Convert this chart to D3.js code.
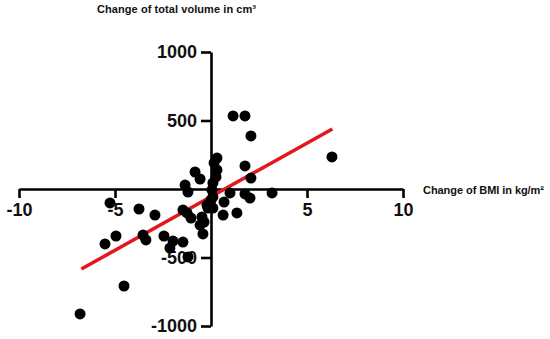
<!DOCTYPE html>
<html>
<head>
<meta charset="utf-8">
<script src="https://cdn.jsdelivr.net/npm/d3@7"></script>
<style>
  body { margin: 0; background: #fff; }
  svg { display: block; }
  .tick text { font-family: "Liberation Sans", Arial, sans-serif; font-weight: bold; font-size: 18px; fill: #111; }
  .title { font-family: "Liberation Sans", Arial, sans-serif; font-weight: bold; font-size: 11px; fill: #111; }
</style>
</head>
<body>
<div id="chart"></div>
<script>
// Change of BMI (kg/m²) for each subject
var bmiChange = [1.15, 1.77, 2.08, 6.30, 1.77, 2.08, 0.99, 1.77, 2.03, 3.18,
  1.35, 0.68, 0.63, 0.31, 0.16, 0.31, 0.26, 0.10, 0.05, 0.10,
  -0.05, 0.10, -0.16, -0.21, -0.83, -0.57, -1.35, -1.20, -1.46, -1.25,
  -1.04, -0.47, -0.57, -0.36, -0.42, -1.46, -1.20, -5.26, -3.75, -2.92,
  -4.95, -5.52, -3.54, -3.39, -2.45, -1.98, -2.14, -4.53, -6.82, 0.00];
// Change of total volume (cm³) for each subject
var volChange = [533, 533, 387, 234, 168, 80, -29, -36, -66, -29,
  -175, -95, -190, 226, 190, 139, 88, 44, -7, -58,
  -110, -139, -139, -117, 124, 73, 29, -22, -153, -175,
  -212, -204, -263, -241, -328, -387, -496, -102, -146, -190,
  -343, -401, -336, -372, -343, -380, -431, -708, -912, -80];

// regression line end points
var fitX = [-6.75, 6.32];
var fitY = [-584, 438];

var xTicks = [-10, -5, 0, 5, 10];
var yTicks = [-1000, -500, 500, 1000];

var svgWidth = 550;
var svgHeight = 339;

var svg = d3.select("#chart")
  .append("svg")
  .attr("width", svgWidth)
  .attr("height", svgHeight);

var xScale = d3.scaleLinear().domain([-10, 10]).range([19, 403]);
var yScale = d3.scaleLinear().domain([-1000, 1000]).range([326, 52]);

// plain hyphen for negatives, like the original figure
var fmt = d => String(d);

// x axis crossing at y = 0
var xAxis = svg.append("g")
  .attr("transform", `translate(0, ${yScale(0)})`)
  .call(d3.axisBottom(xScale)
    .tickValues(xTicks)
    .tickSize(9)
    .tickSizeOuter(0)
    .tickPadding(5)
    .tickFormat(d => d === 0 ? "" : fmt(d)));

// y axis crossing at x = 0
var yAxis = svg.append("g")
  .attr("transform", `translate(${xScale(0)}, 0)`)
  .call(d3.axisLeft(yScale)
    .tickValues(yTicks)
    .tickSize(10)
    .tickSizeOuter(0)
    .tickPadding(4)
    .tickFormat(fmt));

svg.selectAll(".domain, .tick line")
  .attr("stroke", "#000")
  .attr("stroke-width", 2.6);

// titles
svg.append("text")
  .attr("class", "title")
  .attr("x", 97)
  .attr("y", 13)
  .attr("textLength", 159)
  .text("Change of total volume in cm³");

svg.append("text")
  .attr("class", "title")
  .attr("x", 423)
  .attr("y", 194)
  .attr("textLength", 121)
  .text("Change of BMI in kg/m²");

// regression line
svg.append("line")
  .attr("x1", xScale(fitX[0]))
  .attr("y1", yScale(fitY[0]))
  .attr("x2", xScale(fitX[1]))
  .attr("y2", yScale(fitY[1]))
  .attr("stroke", "#e3171d")
  .attr("stroke-width", 3.5);

// subjects
svg.selectAll("circle")
  .data(bmiChange)
  .enter()
  .append("circle")
  .attr("cx", d => xScale(d))
  .attr("cy", (d, i) => yScale(volChange[i]))
  .attr("r", 5.5)
  .attr("fill", "#000");
</script>
</body>
</html>
